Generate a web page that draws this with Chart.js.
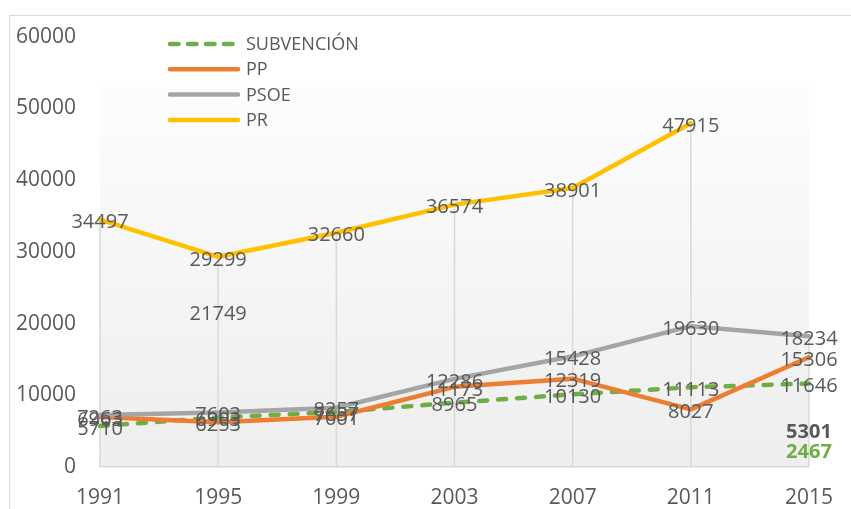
<!DOCTYPE html>
<html>
<head>
<meta charset="utf-8">
<script src="https://cdn.jsdelivr.net/npm/chart.js@4.4.1/dist/chart.umd.min.js"></script>
<style>
  html, body { margin: 0; padding: 0; background: #ffffff; width: 851px; height: 509px; overflow: hidden; }
  #frame { position: absolute; left: 9px; top: 15px; width: 900px; height: 560px; border: 1.5px solid #d9d9d9; box-sizing: border-box; }
  #c { position: absolute; left: 0; top: 0; }
</style>
</head>
<body>
<div id="frame"></div>
<canvas id="c" width="851" height="509"></canvas>
<script>
// ---- data ----
const years = ['1991', '1995', '1999', '2003', '2007', '2011', '2015'];
const subvencion = [5710, 6903, 7657, 8965, 10130, 11113, 11646];
const pp = [6963, 6253, 7001, 11173, 12319, 8027, 15306];
const psoe = [7263, 7603, 8257, 12286, 15428, 19630, 18234];
const pr = [34497, 29299, 32660, 36574, 38901, 47915, null];
// stray data labels without a line
const extraA = [null, 21749, null, null, null, null, null];
const extraB = [null, null, null, null, null, null, 5301];
const extraC = [null, null, null, null, null, null, 2467];
const yTicks = [0, 10000, 20000, 30000, 40000, 50000, 60000];

const FONT = "'Open Sans', 'Liberation Sans', sans-serif";
const TXT = '#595959';
const GREEN = '#70AD47', ORANGE = '#ED7D31', GRAY = '#A5A5A5', GOLD = '#FFC000';

function lineDs(label, data, color, order, dash) {
  return {
    label, data, borderColor: color, backgroundColor: color,
    borderWidth: 4.5, pointRadius: 0, pointHoverRadius: 0, tension: 0,
    borderDash: dash || [], borderCapStyle: 'round', borderJoinStyle: 'round',
    spanGaps: false, order, showLegend: true,
    labelColor: TXT, labelBold: false
  };
}
function extraDs(data, color, bold) {
  return {
    label: '', data, showLine: false, pointRadius: 0, pointHoverRadius: 0,
    borderColor: 'rgba(0,0,0,0)', backgroundColor: 'rgba(0,0,0,0)',
    order: 0, showLegend: false, labelColor: color, labelBold: bold
  };
}

const bgPlugin = {
  id: 'bg',
  beforeDraw(chart) {
    const { ctx, chartArea: a } = chart;
    const top = a.top + (a.bottom - a.top) * 0.114;
    const g = ctx.createLinearGradient(0, top, 0, a.bottom);
    g.addColorStop(0, '#fdfdfd');
    g.addColorStop(1, '#eeeeee');
    ctx.save();
    ctx.fillStyle = g;
    ctx.fillRect(a.left, top, a.right - a.left, a.bottom - top);
    ctx.restore();
  }
};

const dropPlugin = {
  id: 'drop',
  beforeDatasetsDraw(chart) {
    const { ctx, chartArea: a } = chart;
    const n = chart.data.labels.length;
    ctx.save();
    ctx.strokeStyle = '#d9d9d9';
    ctx.lineWidth = 1.5;
    for (let i = 0; i < n; i++) {
      let minY = null, x = null;
      chart.data.datasets.forEach((ds, di) => {
        if (!ds.showLegend) return;
        const v = ds.data[i];
        if (v === null || v === undefined) return;
        const el = chart.getDatasetMeta(di).data[i];
        x = el.x;
        if (minY === null || el.y < minY) minY = el.y;
      });
      if (minY !== null) {
        ctx.beginPath();
        ctx.moveTo(x, minY);
        ctx.lineTo(x, a.bottom);
        ctx.stroke();
      }
    }
    ctx.restore();
  }
};

const labelPlugin = {
  id: 'vlabels',
  afterDatasetsDraw(chart) {
    const { ctx } = chart;
    ctx.save();
    ctx.textAlign = 'center';
    ctx.textBaseline = 'middle';
    chart.data.datasets.forEach((ds, di) => {
      const meta = chart.getDatasetMeta(di);
      ctx.font = (ds.labelBold ? 'bold ' : '') + '20px ' + FONT;
      ctx.fillStyle = ds.labelColor;
      ds.data.forEach((v, i) => {
        if (v === null || v === undefined) return;
        const el = meta.data[i];
        ctx.fillText(String(v), el.x, el.y + 3);
      });
    });
    ctx.restore();
  }
};

const legendPlugin = {
  id: 'customLegend',
  afterDraw(chart) {
    const { ctx } = chart;
    const items = chart.data.datasets.filter(d => d.showLegend);
    const x0 = 170, x1 = 238, tx = 246, y0 = 44, dy = 25.3;
    ctx.save();
    ctx.font = '18px ' + FONT;
    ctx.textAlign = 'left';
    ctx.textBaseline = 'middle';
    items.forEach((d, i) => {
      const y = y0 + i * dy;
      ctx.strokeStyle = d.borderColor;
      ctx.lineWidth = 4.5;
      ctx.lineCap = 'round';
      ctx.setLineDash(d.borderDash && d.borderDash.length ? [8.5, 9.5] : []);
      ctx.beginPath();
      ctx.moveTo(x0, y);
      ctx.lineTo(x1, y);
      ctx.stroke();
      ctx.setLineDash([]);
      ctx.fillStyle = TXT;
      ctx.fillText(d.label, tx, y + 1);
    });
    ctx.restore();
  }
};

new Chart(document.getElementById('c'), {
  type: 'line',
  data: {
    labels: years,
    datasets: [
      lineDs('SUBVENCIÓN', subvencion, GREEN, 4, [8, 11]),
      lineDs('PP', pp, ORANGE, 3),
      lineDs('PSOE', psoe, GRAY, 2),
      lineDs('PR', pr, GOLD, 1),
      extraDs(extraA, TXT, false),
      extraDs(extraB, TXT, true),
      extraDs(extraC, GREEN, true)
    ]
  },
  options: {
    responsive: false,
    animation: false,
    events: [],
    layout: { padding: { left: 0, right: 31, top: 36, bottom: 0 } },
    plugins: { legend: { display: false }, tooltip: { enabled: false } },
    scales: {
      x: {
        type: 'category',
        offset: false,
        grid: { display: false, drawTicks: false },
        border: { display: true, color: '#d9d9d9', width: 1.5 },
        ticks: { color: TXT, font: { family: FONT, size: 21 }, padding: 18, maxRotation: 0, autoSkip: false },
        afterFit(s) { s.height = 42; }
      },
      y: {
        min: 0, max: 60000,
        grid: { display: false, drawTicks: false },
        border: { display: false },
        afterBuildTicks(s) { s.ticks = yTicks.map(v => ({ value: v })); },
        ticks: { color: TXT, font: { family: FONT, size: 21 }, padding: 24, callback: v => String(v) },
        afterFit(s) { s.width = 100; }
      }
    }
  },
  plugins: [bgPlugin, dropPlugin, labelPlugin, legendPlugin]
});
</script>
</body>
</html>
